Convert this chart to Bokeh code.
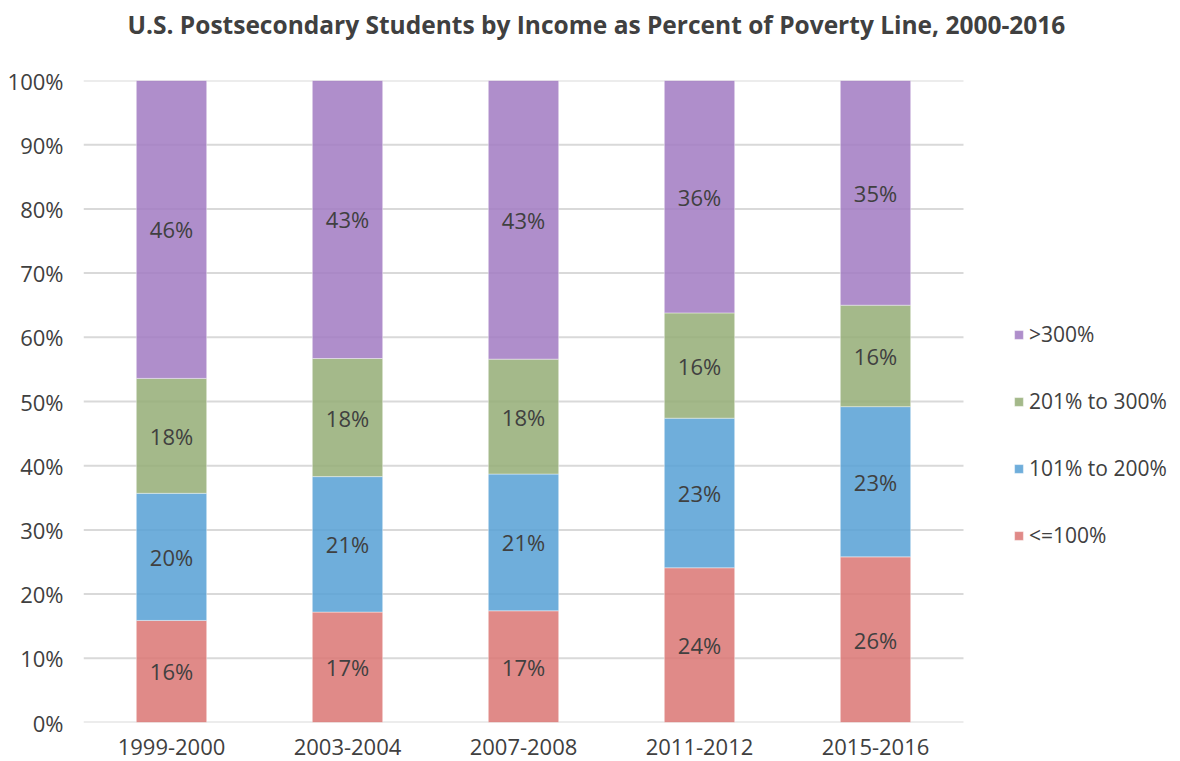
from bokeh.plotting import figure
from bokeh.models import (ColumnDataSource, FixedTicker, NumeralTickFormatter, Legend, LegendItem,
                          LabelSet, Title, Range1d)
from bokeh.core.properties import value
from bokeh.embed import file_html
from bokeh.resources import INLINE

years = ["1999-2000", "2003-2004", "2007-2008", "2011-2012", "2015-2016"]
series = ["<=100%", "101% to 200%", "201% to 300%", ">300%"]
le100 = [15.9, 17.2, 17.4, 24.1, 25.8]
p101_200 = [19.8, 21.1, 21.3, 23.3, 23.4]
p201_300 = [17.9, 18.4, 17.9, 16.4, 15.8]
gt300 = [46.4, 43.3, 43.4, 36.2, 35.0]
y_ticks = [i / 10 for i in range(11)]
colors = ["#DA7573", "#56A0D5", "#94AD75", "#A17AC2"]

FONT = "Open Sans"
TXT = "#404040"
FS = "22px"

W, H = 1176, 759
LEFT = 83

vals = [le100, p101_200, p201_300, gt300]
xpos = [i + 0.5 for i in range(len(years))]
data = {"x": xpos}
for s, v in zip(series, vals):
    data[s] = [x / 100 for x in v]
src = ColumnDataSource(data)

p = figure(x_range=Range1d(0, (W - LEFT) / 176), y_range=(0, 1), width=W, height=H,
           output_backend="svg", toolbar_location=None,
           min_border_left=LEFT, min_border_right=0, min_border_top=80, min_border_bottom=37)
p.outline_line_color = None

# horizontal grid lines over the category span only
p.segment(x0=0, x1=len(years), y0=y_ticks, y1=y_ticks, line_color="#D9D9D9", line_width=2)

rs = p.vbar_stack(series, x="x", width=0.4, source=src, color=colors,
                  fill_alpha=0.85, line_color="white", line_alpha=0.4, line_width=1)

# labels
lx, ly, lt = [], [], []
for i, xp in enumerate(xpos):
    base = 0
    for ser in vals:
        v = ser[i]
        lx.append(xp)
        ly.append((base + v / 2) / 100)
        lt.append(f"{round(v)}%")
        base += v
p.add_layout(LabelSet(x="lx", y="ly", text="lt", source=ColumnDataSource(dict(lx=lx, ly=ly, lt=lt)),
                      text_align="center", text_baseline="middle", text_font=value(FONT),
                      text_font_size=FS, text_color=TXT))

p.yaxis.ticker = FixedTicker(ticks=y_ticks)
p.yaxis.formatter = NumeralTickFormatter(format="0%")
p.xaxis.ticker = FixedTicker(ticks=xpos)
p.xaxis.major_label_overrides = {x: y for x, y in zip(xpos, years)}
for ax in (p.xaxis, p.yaxis):
    ax.major_tick_line_color = None
    ax.minor_tick_line_color = None
    ax.axis_line_color = None
    ax.major_label_text_font = FONT
    ax.major_label_text_font_size = FS
    ax.major_label_text_color = TXT
p.xaxis.major_label_standoff = 10
p.yaxis.major_label_standoff = 14
p.xgrid.grid_line_color = None
p.ygrid.grid_line_color = None

items = [LegendItem(label=series[i], renderers=[rs[i]]) for i in [3, 2, 1, 0]]
leg = Legend(items=items, location=(930, 173), orientation="vertical",
             glyph_width=11, glyph_height=11, label_text_font=FONT, label_text_font_size="21px",
             label_text_color=TXT, spacing=39, label_height=25, border_line_color=None,
             background_fill_alpha=0, padding=0, margin=0, label_standoff=5)
p.add_layout(leg)

p.title = Title(text="U.S. Postsecondary Students by Income as Percent of Poverty Line, 2000-2016",
                align="left", offset=44, standoff=0, padding=(0, 0, 0, 40),
                text_font=FONT, text_font_size="24.5px",
                text_font_style="bold", text_color=TXT)

open("out.html", "w").write(file_html(p, INLINE))
